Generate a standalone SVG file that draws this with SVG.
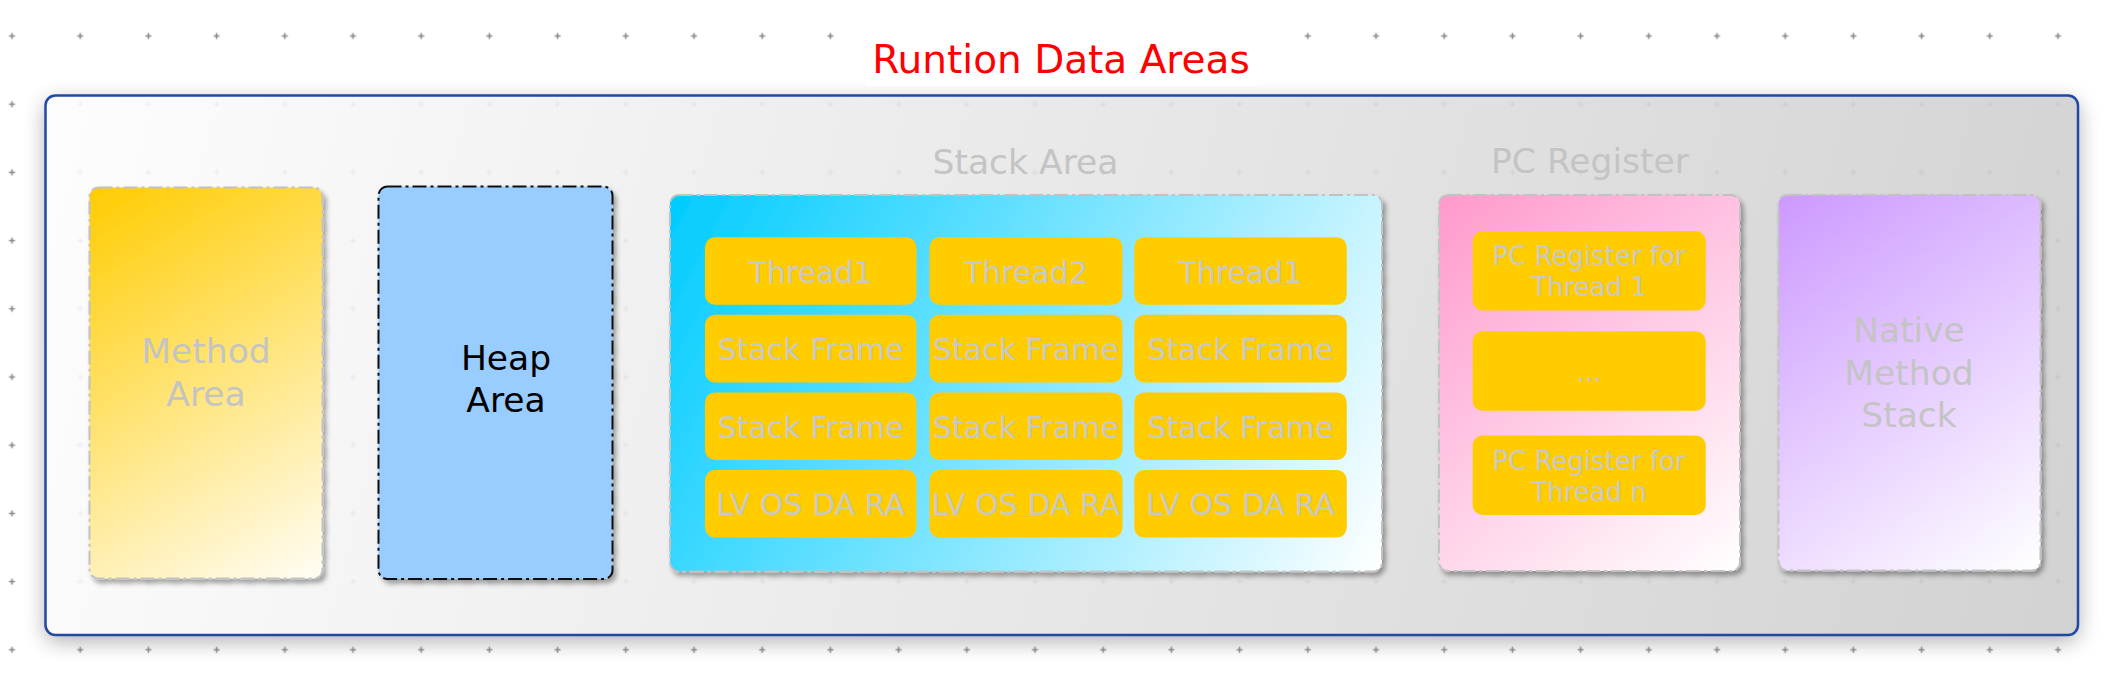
<svg xmlns="http://www.w3.org/2000/svg" width="2108" height="674" viewBox="0 0 2108 674">
<defs>
  <pattern id="grid" patternUnits="userSpaceOnUse" x="-22.1" y="1.9" width="68.2" height="68.2">
    <path d="M31.1,34.1H37.1M34.1,31.1V37.1" stroke="#8a8a8a" stroke-width="1.6" fill="none"/>
  </pattern>
  <linearGradient id="gOuter" gradientUnits="userSpaceOnUse" x1="45.5" y1="95.5" x2="2078" y2="635">
    <stop offset="0" stop-color="#fdfdfd"/>
    <stop offset="1" stop-color="#cdcdcd"/>
  </linearGradient>
  <linearGradient id="gMethod" gradientUnits="userSpaceOnUse" x1="89.5" y1="187.5" x2="322.5" y2="578.5">
    <stop offset="0" stop-color="#ffcc00"/>
    <stop offset="1" stop-color="#fffdf5"/>
  </linearGradient>
  <linearGradient id="gStack" gradientUnits="userSpaceOnUse" x1="670" y1="195" x2="1382" y2="571.5">
    <stop offset="0" stop-color="#00ccff"/>
    <stop offset="1" stop-color="#ffffff"/>
  </linearGradient>
  <linearGradient id="gPC" gradientUnits="userSpaceOnUse" x1="1439" y1="195" x2="1740" y2="571">
    <stop offset="0" stop-color="#ff99cc"/>
    <stop offset="1" stop-color="#ffffff"/>
  </linearGradient>
  <linearGradient id="gNative" gradientUnits="userSpaceOnUse" x1="1778.5" y1="195" x2="2040.5" y2="570.5">
    <stop offset="0" stop-color="#cc99ff"/>
    <stop offset="1" stop-color="#ffffff"/>
  </linearGradient>
  <filter id="outerShadow" x="-5%" y="-15%" width="110%" height="135%">
    <feGaussianBlur stdDeviation="11"/>
  </filter>
  <filter id="sh" x="-10%" y="-10%" width="125%" height="125%">
    <feDropShadow dx="3" dy="4" stdDeviation="2.5" flood-color="#000000" flood-opacity="0.35"/>
  </filter>
</defs>
<style>
  text{font-family:"DejaVu Sans","Liberation Sans",sans-serif;text-anchor:middle}
  .lbl{font-size:34.5px;fill:#c4c4c4}
  .cellt{font-size:30px;fill:#c8c8c8}
  .pct{font-size:26px;fill:#c8c8c8}
  .node{stroke:#c2c2c2;stroke-width:2;stroke-dasharray:14 4 3 4}
  .cell{fill:#ffcc00}
  .title{font-size:39px;fill:#ff0000}
</style>

<rect x="0" y="0" width="2108" height="674" fill="#ffffff"/>

<g id="runtime-data-areas">
  <rect x="45.5" y="101.5" width="2032.5" height="539.5" rx="10" fill="#000000" opacity="0.32" filter="url(#outerShadow)"/>
  <rect x="45.5" y="95.5" width="2032.5" height="539.5" rx="10" fill="#ffffff"/>
</g>

<rect id="canvas-grid" x="0" y="0" width="2108" height="674" fill="url(#grid)"/>

<g id="title">
  <rect x="866" y="12" width="391" height="74" fill="#ffffff"/>
  <text class="title" x="1061" y="72.5">Runtion Data Areas</text>
</g>

<g id="runtime-data-areas-box">
  <rect x="45.5" y="95.5" width="2032.5" height="539.5" rx="10" fill="url(#gOuter)" fill-opacity="0.9" stroke="#2049a6" stroke-width="2.5"/>
</g>

<g id="method-area">
  <rect class="node" x="89.5" y="187.5" width="233" height="391" rx="9" fill="url(#gMethod)" filter="url(#sh)"/>
  <text class="lbl" x="206" y="363">Method</text>
  <text class="lbl" x="206" y="406">Area</text>
</g>

<g id="heap-area">
  <rect x="378.5" y="186.5" width="234" height="392.5" rx="9" fill="#99ccff" stroke="#111111" stroke-width="2" stroke-dasharray="14 4 3 4" filter="url(#sh)"/>
  <text class="lbl" x="506" y="369.5" style="fill:#000000">Heap</text>
  <text class="lbl" x="506" y="411.5" style="fill:#000000">Area</text>
</g>

<g id="stack-area">
  <text class="lbl" x="1025.5" y="174">Stack Area</text>
  <rect class="node" x="670" y="195" width="712" height="376.5" rx="9" fill="url(#gStack)" filter="url(#sh)"/>
  <g id="stack-cells">
    <rect class="cell" x="705" y="237.2" width="211.5" height="67.6" rx="10"/>
    <rect class="cell" x="929.5" y="237.2" width="193" height="67.6" rx="10"/>
    <rect class="cell" x="1134.3" y="237.2" width="212.5" height="67.6" rx="10"/>
    <rect class="cell" x="705" y="314.8" width="211.5" height="67.6" rx="10"/>
    <rect class="cell" x="929.5" y="314.8" width="193" height="67.6" rx="10"/>
    <rect class="cell" x="1134.3" y="314.8" width="212.5" height="67.6" rx="10"/>
    <rect class="cell" x="705" y="392.4" width="211.5" height="67.6" rx="10"/>
    <rect class="cell" x="929.5" y="392.4" width="193" height="67.6" rx="10"/>
    <rect class="cell" x="1134.3" y="392.4" width="212.5" height="67.6" rx="10"/>
    <rect class="cell" x="705" y="470" width="211.5" height="67.6" rx="10"/>
    <rect class="cell" x="929.5" y="470" width="193" height="67.6" rx="10"/>
    <rect class="cell" x="1134.3" y="470" width="212.5" height="67.6" rx="10"/>
    <text class="cellt" x="810.7" y="282.5">Thread1</text>
    <text class="cellt" x="1026" y="282.5">Thread2</text>
    <text class="cellt" x="1240.5" y="282.5">Thread1</text>
    <text class="cellt" x="810.7" y="360">Stack Frame</text>
    <text class="cellt" x="1026" y="360">Stack Frame</text>
    <text class="cellt" x="1240.5" y="360">Stack Frame</text>
    <text class="cellt" x="810.7" y="437.5">Stack Frame</text>
    <text class="cellt" x="1026" y="437.5">Stack Frame</text>
    <text class="cellt" x="1240.5" y="437.5">Stack Frame</text>
    <text class="cellt" x="810.7" y="515">LV OS DA RA</text>
    <text class="cellt" x="1026" y="515">LV OS DA RA</text>
    <text class="cellt" x="1240.5" y="515">LV OS DA RA</text>
  </g>
</g>

<g id="pc-register">
  <text class="lbl" x="1590" y="173">PC Register</text>
  <rect class="node" x="1439" y="195" width="301" height="376" rx="9" fill="url(#gPC)" filter="url(#sh)"/>
  <rect class="cell" x="1472.7" y="231" width="233" height="79.5" rx="10"/>
  <rect class="cell" x="1472.7" y="331.2" width="233" height="79.5" rx="10"/>
  <rect class="cell" x="1472.7" y="435.5" width="233" height="79.5" rx="10"/>
  <text class="pct" x="1589.2" y="265">PC Register for</text>
  <text class="pct" x="1589.2" y="296">Thread 1</text>
  <text class="pct" x="1589.2" y="380.5">...</text>
  <text class="pct" x="1589.2" y="469.5">PC Register for</text>
  <text class="pct" x="1589.2" y="500.5">Thread n</text>
</g>

<g id="native-method-stack">
  <rect class="node" x="1778.5" y="195" width="262" height="375.5" rx="9" fill="url(#gNative)" filter="url(#sh)"/>
  <text class="lbl" x="1909" y="342">Native</text>
  <text class="lbl" x="1909" y="384.5">Method</text>
  <text class="lbl" x="1909" y="427">Stack</text>
</g>

<g id="connectors"/>
</svg>
